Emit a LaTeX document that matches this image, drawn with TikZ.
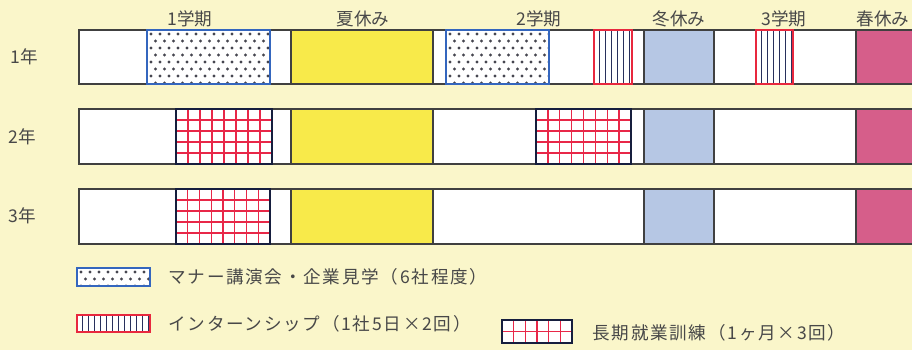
\documentclass[tikz,border=0pt]{standalone}
\usepackage{fontspec}
\setmainfont{Noto Sans CJK JP}
\newfontfamily\legfont[LetterSpace=10]{Noto Sans CJK JP}

\definecolor{bgyellow}{RGB}{250,246,202}
\definecolor{summer}{RGB}{248,234,74}
\definecolor{winter}{RGB}{182,199,228}
\definecolor{spring}{RGB}{214,94,138}
\definecolor{dotblue}{RGB}{52,102,190}
\definecolor{dotgray}{RGB}{70,70,80}
\definecolor{stripered}{RGB}{232,40,62}
\definecolor{stripenavy}{RGB}{40,48,92}
\definecolor{gridnavy}{RGB}{22,30,62}
\definecolor{gridred}{RGB}{232,40,72}
\definecolor{txtgray}{RGB}{72,72,72}

% dotted box: x1 y1 x2 y2
\newcommand{\dotrect}[4]{%
  \fill[white] (#1,#2) rectangle (#3,#4);
  \begin{scope}
    \clip (#1,#2) rectangle (#3,#4);
    \foreach \i in {0,...,14}
      \foreach \j in {0,...,7}
        \fill[dotgray] ({#1+4+9*\i+4.5*mod(\j,2)},{#2+4+7*\j}) circle [radius=0.9pt];
  \end{scope}
  \draw[thick,dotblue] (#1,#2) rectangle (#3,#4);}

% striped box
\newcommand{\striperect}[4]{%
  \fill[white] (#1,#2) rectangle (#3,#4);
  \begin{scope}
    \clip (#1,#2) rectangle (#3,#4);
    \foreach \i in {0,...,14}
      \draw[stripenavy,line width=0.8pt] ({#1+5.5+6*\i},#2) -- ({#1+5.5+6*\i},#4);
  \end{scope}
  \draw[thick,stripered] (#1,#2) rectangle (#3,#4);}

% grid box
\newcommand{\gridrect}[4]{%
  \fill[white] (#1,#2) rectangle (#3,#4);
  \pgfmathsetmacro\gw{(#3-#1)/round((#3-#1)/12.5)}
  \pgfmathsetmacro\gh{(#4-#2)/round((#4-#2)/10.8)}
  \begin{scope}
    \clip (#1,#2) rectangle (#3,#4);
    \foreach \i in {1,...,10}
      \draw[gridred,line width=0.8pt] ({#1+\gw*\i},#2) -- ({#1+\gw*\i},#4);
    \foreach \j in {1,...,6}
      \draw[gridred,line width=0.8pt] (#1,{#2+\gh*\j}) -- (#3,{#2+\gh*\j});
  \end{scope}
  \draw[thick,gridnavy] (#1,#2) rectangle (#3,#4);}

\begin{document}
\begin{tikzpicture}[x=0.02cm,y=-0.02cm,
    bar/.style={draw=black!75,line width=0.7pt},
    lbl/.style={font=\fontsize{10pt}{12pt}\selectfont,text=txtgray,inner sep=0pt},
    leg/.style={lbl,anchor=west,font=\legfont\fontsize{10pt}{12pt}\selectfont}]
  \fill[bgyellow] (0,0) rectangle (912,350);
  \useasboundingbox (0,0) rectangle (912,350);

  % headers
  \node[lbl] (term1) at (190,19) {1学期};
  \node[lbl] (summerlbl) at (363,19) {夏休み};
  \node[lbl] (term2) at (539,19) {2学期};
  \node[lbl] (winterlbl) at (679,19) {冬休み};
  \node[lbl] (term3) at (784,19) {3学期};
  \node[lbl] (springlbl) at (883,19) {春休み};

  % years
  \node[lbl] (year1) at (24,57) {1年};
  \node[lbl] (year2) at (22,137) {2年};
  \node[lbl] (year3) at (22,216) {3年};

  % bars
  \foreach \ya/\yb in {30/84,109/164,189/244} {
    \fill[white] (79,\ya) rectangle (914,\yb);
    \fill[summer] (291,\ya) rectangle (433,\yb);
    \fill[winter] (644,\ya) rectangle (714,\yb);
    \fill[spring] (856,\ya) rectangle (914,\yb);
    \draw[bar] (79,\ya) rectangle (914,\yb);
    \foreach \x in {291,433,644,714,856}
      \draw[bar] (\x,\ya) -- (\x,\yb);
  }

  % 1st year
  \dotrect{147}{30}{270}{84}
  \dotrect{446}{30}{549}{84}
  \striperect{594}{30}{632}{84}
  \striperect{756}{30}{793}{84}
  % 2nd year
  \gridrect{176}{109}{272}{164}
  \gridrect{536}{109}{631}{164}
  % 3rd year
  \gridrect{176}{189}{270}{244}

  % legend
  \dotrect{77}{268}{150}{286}
  \node[leg] (leg1) at (168,277) {マナー講演会・企業見学（6社程度）};
  \striperect{77}{315}{150}{332}
  \node[leg] (leg2) at (168,324) {インターンシップ（1社5日×2回）};
  \gridrect{502}{320}{572}{343}
  \node[leg] (leg3) at (592,333) {長期就業訓練（1ヶ月×3回）};
\end{tikzpicture}
\end{document}
